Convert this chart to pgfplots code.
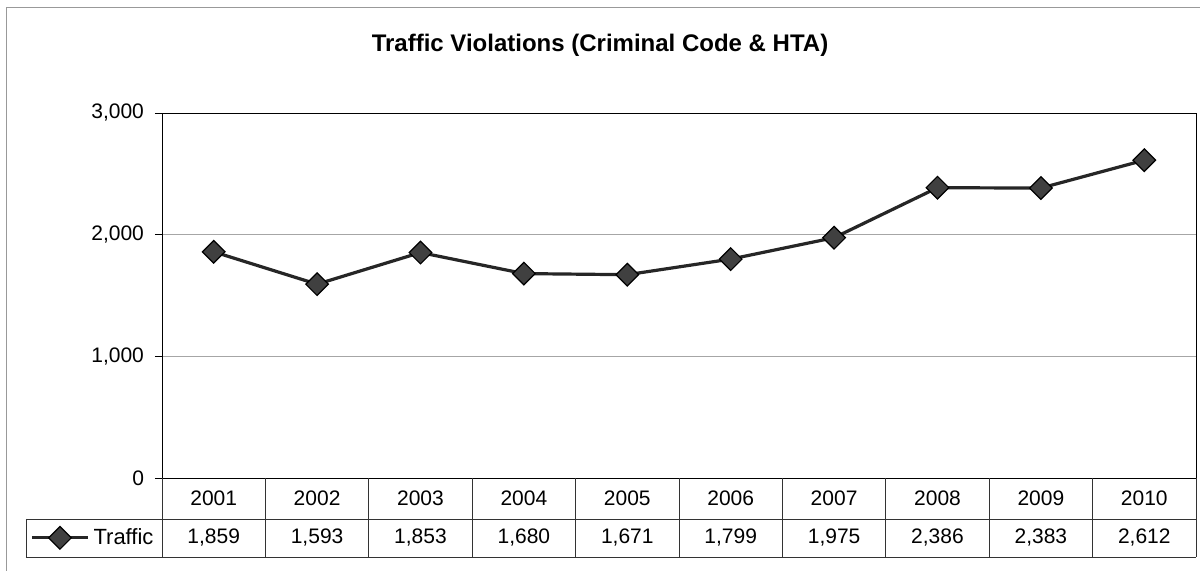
\documentclass[border=0pt]{standalone}
\usepackage{fontspec}
\setmainfont{Liberation Sans}
\usepackage{pgfplots}
\pgfplotsset{compat=1.18}

\pgfplotstableread{
x year val
1 2001 1859
2 2002 1593
3 2003 1853
4 2004 1680
5 2005 1671
6 2006 1799
7 2007 1975
8 2008 2386
9 2009 2383
10 2010 2612
}\traffic

\begin{document}
\begin{tikzpicture}
\begin{axis}[
  scale only axis,
  width=517pt, height=182.5pt,
  at={(0,0)}, anchor=south west,
  xmin=0.5, xmax=10.5,
  ymin=0, ymax=3000,
  xtick=\empty,
  ytick={0,1000,2000,3000},
  ytick pos=left,
  yticklabel style={font=\fontsize{10.5}{12}\selectfont, xshift=-2pt},
  /pgf/number format/assume math mode=true,
  /pgf/number format/1000 sep={,},
  tick align=outside,
  major tick length=3.5pt,
  ytick style={black, thin},
  ymajorgrids,
  grid style={gray!70, thin},
  axis line style={black, thin},
  clip=false,
  legend style={at={(-0.004,-0.164)}, anchor=east, draw=none, fill=none,
    font=\fontsize{11}{12}\selectfont, inner sep=0pt},
  legend image code/.code={
    \draw[mark repeat=2, mark phase=2]
      plot coordinates {(0pt,0pt) (14pt,0pt) (28pt,0pt)};},
]
\addplot[black!85, line width=1.6pt, mark=square*,
  mark size=4pt,
  mark options={rotate=45, fill=black!75, draw=black, line width=0.6pt}]
  table[x=x, y=val] {\traffic};
\addlegendentry{Traffic}
\end{axis}

% data table below the plot
\begin{scope}[black!80, thin]
  \draw (-68pt,-20.5pt) -- (517pt,-20.5pt);
  \draw (-68pt,-39.5pt) -- (517pt,-39.5pt);
  \draw (-68pt,-20.5pt) -- (-68pt,-39.5pt);
  \draw (0pt,0pt) -- (0pt,-39.5pt);
  \foreach \i in {1,...,10} {
    \draw ({\i*51.7pt},0pt) -- ({\i*51.7pt},-39.5pt);
  }
\end{scope}
\foreach \yr/\v [count=\i] in {2001/1{,}859,2002/1{,}593,2003/1{,}853,2004/1{,}680,2005/1{,}671,
  2006/1{,}799,2007/1{,}975,2008/2{,}386,2009/2{,}383,2010/2{,}612} {
  \node[font=\fontsize{10.5}{12}\selectfont] at ({(\i-0.5)*51.7pt},-10pt) {\yr};
  \node[font=\fontsize{10.5}{12}\selectfont] at ({(\i-0.5)*51.7pt},-30pt) {\v};
}

% title
\node[font=\fontsize{12}{14}\selectfont\bfseries] at (219pt,216.5pt)
  {Traffic Violations (Criminal Code \& HTA)};

% outer frame (right and bottom edges fall outside the page)
\draw[gray!80, thin] (-78pt,-60pt) -- (-78pt,235.5pt) -- (530pt,235.5pt);

\pgfresetboundingbox
\path[use as bounding box] (-81pt,-46.5pt) rectangle (519pt,239pt);
\end{tikzpicture}
\end{document}
